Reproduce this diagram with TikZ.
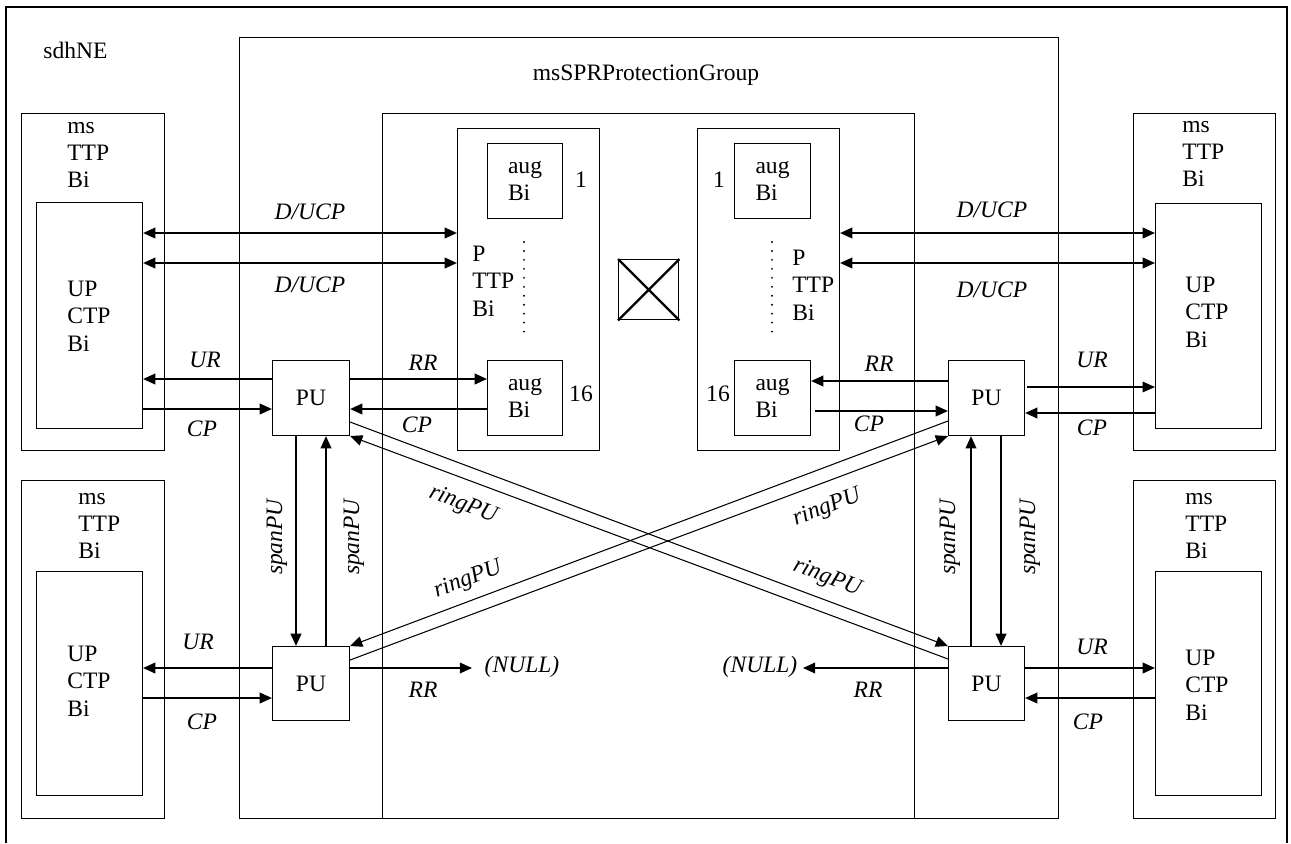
\documentclass[tikz,border=0pt]{standalone}
\usepackage{fontspec}
\setmainfont{Liberation Serif}
\usetikzlibrary{arrows.meta}

\begin{document}
\begin{tikzpicture}[x=0.02cm, y=-0.02cm,
    font=\fontsize{13.4}{15.6}\selectfont,
    box/.style={draw, line width=0.6pt, inner sep=0pt, anchor=north west, align=left},
    lbl/.style={inner sep=0pt, align=left, anchor=west},
    it/.style={inner sep=0pt, font=\fontsize{13.4}{15.6}\selectfont\itshape},
    arr/.style={line width=1.2pt, -{Triangle[length=7pt,width=6pt]}},
    darr/.style={line width=1.2pt, {Triangle[length=7pt,width=6pt]}-{Triangle[length=7pt,width=6pt]}},
    thinarr/.style={line width=0.6pt, -{Triangle[length=7pt,width=6pt]}}]
    \useasboundingbox (0,0) rectangle (1291,843);
    % Frame
    \draw[line width=0.8pt] (6,843) -- (6,7) -- (1287,7) -- (1287,843);
    \node[lbl] (ne) at (43,50) {sdhNE};
    % Protection group
    \node[box, minimum width=16.38cm, minimum height=15.62cm] (grp) at (239,37) {};
    \node (grpname) at (646,75) {msSPRProtectionGroup};
    \node[box, minimum width=10.64cm, minimum height=14.10cm] (inner) at (382,113) {};
    % Trail termination points, left
    \node[box, minimum width=2.86cm, minimum height=6.74cm] (msLT) at (21,113) {};
    \node[box, minimum width=2.12cm, minimum height=4.52cm] (upLT) at (36,202) {};
    \node[lbl] (tmsLT) at (67,155) {ms\\TTP\\Bi};
    \node[lbl] (tupLT) at (67,316) {UP\\CTP\\Bi};
    \node[box, minimum width=2.86cm, minimum height=6.76cm] (msLB) at (21,480) {};
    \node[box, minimum width=2.12cm, minimum height=4.48cm] (upLB) at (36,571) {};
    \node[lbl] (tmsLB) at (78,526) {ms\\TTP\\Bi};
    \node[lbl] (tupLB) at (67,681) {UP\\CTP\\Bi};
    % Trail termination points, right
    \node[box, minimum width=2.84cm, minimum height=6.74cm] (msRT) at (1133,113) {};
    \node[box, minimum width=2.12cm, minimum height=4.50cm] (upRT) at (1155,203) {};
    \node[lbl] (tmsRT) at (1182,154) {ms\\TTP\\Bi};
    \node[lbl] (tupRT) at (1185,312) {UP\\CTP\\Bi};
    \node[box, minimum width=2.84cm, minimum height=6.76cm] (msRB) at (1133,480) {};
    \node[box, minimum width=2.12cm, minimum height=4.48cm] (upRB) at (1155,571) {};
    \node[lbl] (tmsRB) at (1185,526) {ms\\TTP\\Bi};
    \node[lbl] (tupRB) at (1185,685) {UP\\CTP\\Bi};
    % P TTP Bi with aug
    \node[box, minimum width=2.84cm, minimum height=6.44cm] (pttpL) at (457,128) {};
    \node[box, minimum width=1.50cm, minimum height=1.50cm] (augL1) at (487,143) {aug\\Bi};
    \node[box, minimum width=1.50cm, minimum height=1.50cm] (augL16) at (487,360) {aug\\Bi};
    \node[lbl] (tpL) at (472,281) {P\\TTP\\Bi};
    \node (nL1) at (581,180) {1};
    \node (nL16) at (581,394) {16};
    \draw[line width=1.2pt, line cap=round, dash pattern=on 0pt off 5.1pt] (524,242) -- (524,335);
    \node[box, minimum width=2.84cm, minimum height=6.44cm] (pttpR) at (697,128) {};
    \node[box, minimum width=1.52cm, minimum height=1.50cm] (augR1) at (734,143) {aug\\Bi};
    \node[box, minimum width=1.52cm, minimum height=1.50cm] (augR16) at (734,360) {aug\\Bi};
    \node[lbl] (tpR) at (792,285) {P\\TTP\\Bi};
    \node (nR1) at (719,180) {1};
    \node (nR16) at (718,394) {16};
    \draw[line width=1.2pt, line cap=round, dash pattern=on 0pt off 5.1pt] (772,242) -- (772,335);
    % Cross connection
    \node[box, line width=0.8pt, minimum width=1.2cm, minimum height=1.2cm] (xc) at (618,259) {};
    \draw[line width=1.3pt] (xc.north west) -- (xc.south east) (xc.north east) -- (xc.south west);
    % Protection units
    \node[box, minimum width=1.54cm, minimum height=1.50cm, align=center] (puLT) at (272,360) {PU};
    \node[box, minimum width=1.54cm, minimum height=1.48cm, align=center] (puLB) at (272,646) {PU};
    \node[box, minimum width=1.52cm, minimum height=1.50cm, align=center] (puRT) at (948,360) {PU};
    \node[box, minimum width=1.52cm, minimum height=1.48cm, align=center] (puRB) at (948,646) {PU};
    \node[it] (nullL) at (522,667) {(NULL)};
    \node[it] (nullR) at (760,667) {(NULL)};
    % D/UCP
    \draw[darr] (upLT.east |- 0,233) -- (pttpL.west |- 0,233);
    \draw[darr] (upLT.east |- 0,263) -- (pttpL.west |- 0,263);
    \draw[darr] (pttpR.east |- 0,233) -- (upRT.west |- 0,233);
    \draw[darr] (pttpR.east |- 0,263) -- (upRT.west |- 0,263);
    \node[it] at (310,212) {D/UCP};
    \node[it] at (310,285) {D/UCP};
    \node[it] at (992,210) {D/UCP};
    \node[it] at (992,290) {D/UCP};
    % Upper units
    \draw[arr] (puLT.west |- 0,379) -- (upLT.east |- 0,379);
    \draw[arr] (upLT.east |- 0,409) -- (puLT.west |- 0,409);
    \draw[arr] (puLT.east |- 0,379) -- (augL16.west |- 0,379);
    \draw[arr] (augL16.west |- 0,409) -- (puLT.east |- 0,409);
    \draw[arr] (puRT.west |- 0,381) -- (augR16.east |- 0,381);
    \draw[arr] ([xshift=0.08cm]augR16.east |- 0,411) -- (puRT.west |- 0,411);
    \draw[thinarr] ([xshift=0.04cm]puRT.east |- 0,387) -- (upRT.west |- 0,387);
    \draw[arr] (upRT.west |- 0,413) -- (puRT.east |- 0,413);
    \node[it] at (205,360) {UR};
    \node[it] at (202,429) {CP};
    \node[it] at (423,363) {RR};
    \node[it] at (417,425) {CP};
    \node[it] at (879,364) {RR};
    \node[it] at (869,424) {CP};
    \node[it] at (1092,360) {UR};
    \node[it] at (1092,428) {CP};
    % Lower units
    \draw[arr] (puLB.west |- 0,668) -- (upLB.east |- 0,668);
    \draw[arr] (upLB.east |- 0,698) -- (puLB.west |- 0,698);
    \draw[arr, shorten >=7pt] (puLB.east |- 0,668) -- (nullL.west |- 0,668);
    \draw[arr, shorten >=3pt] (puRB.west |- 0,668) -- (nullR.east |- 0,668);
    \draw[arr] (puRB.east |- 0,668) -- (upRB.west |- 0,668);
    \draw[arr] (upRB.west |- 0,698) -- (puRB.east |- 0,698);
    \node[it] at (198,642) {UR};
    \node[it] at (202,722) {CP};
    \node[it] at (423,690) {RR};
    \node[it] at (868,690) {RR};
    \node[it] at (1092,647) {UR};
    \node[it] at (1088,722) {CP};
    % spanPU
    \draw[arr] (puLT.south -| 296,0) -- (puLB.north -| 296,0);
    \draw[arr] (puLB.north -| 326,0) -- (puLT.south -| 326,0);
    \draw[arr] (puRB.north -| 971,0) -- (puRT.south -| 971,0);
    \draw[arr] (puRT.south -| 1001,0) -- (puRB.north -| 1001,0);
    \node[it, rotate=90] at (277,537) {spanPU};
    \node[it, rotate=90] at (354,537) {spanPU};
    \node[it, rotate=90] at (950,537) {spanPU};
    \node[it, rotate=90] at (1030,537) {spanPU};
    % ringPU
    \draw[thinarr] (puLT.east |- 0,422) -- (puRB.north west);
    \draw[thinarr] (puRB.west |- 0,659) -- (puLT.south east);
    \draw[thinarr] (puLB.east |- 0,660) -- (puRT.south west);
    \draw[thinarr] (puRT.west |- 0,421) -- (puLB.north east);
    \node[it, rotate=-21] at (463,505) {ringPU};
    \node[it, rotate=21] at (468,580) {ringPU};
    \node[it, rotate=21] at (827,508) {ringPU};
    \node[it, rotate=-21] at (827,578) {ringPU};
\end{tikzpicture}
\end{document}
